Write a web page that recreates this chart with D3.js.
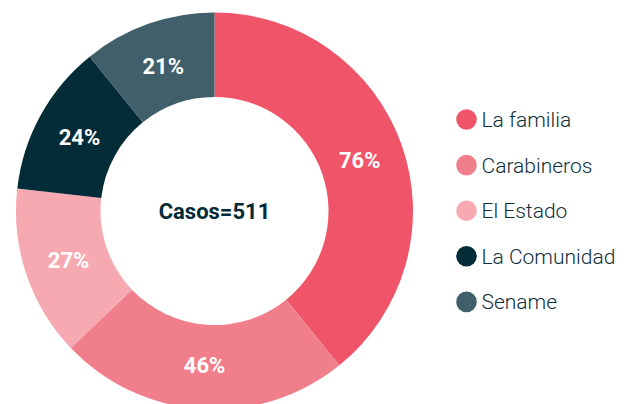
<!DOCTYPE html>
<html>
<head>
<meta charset="utf-8">
<script src="https://cdn.jsdelivr.net/npm/d3@7"></script>
<style>
  body { margin: 0; background: #fff; }
  text { font-family: Roboto, "Noto Sans", sans-serif; }
</style>
</head>
<body>
<div id="chart-area"></div>
<script>
/*
*    donut chart - casos
*/

var categories = ["La familia", "Carabineros", "El Estado", "La Comunidad", "Sename"];
var values = [76, 46, 27, 24, 21];
var colours = ["#F05468", "#F17F8B", "#F6A9B1", "#032B38", "#405F6A"];
var total = 511;

var width = 629, height = 404;
var cx = 214.5, cy = 211,
    outerR = 198.5, innerR = 114;

var svg = d3.select("#chart-area").append("svg")
    .attr("width", width)
    .attr("height", height);

var g = svg.append("g")
    .attr("transform", "translate(" + cx + "," + cy + ")");

var data = categories.map(function(c, i) {
    return { name: c, value: values[i], colour: colours[i] };
});

var pie = d3.pie()
    .sort(null)
    .value(function(d) { return d.value; });

var arc = d3.arc()
    .innerRadius(innerR)
    .outerRadius(outerR);

// labels sit a bit inside the ring's middle
var labelArc = d3.arc()
    .innerRadius(154)
    .outerRadius(154);

var arcs = pie(data);

// Slices
g.selectAll("path.slice")
    .data(arcs)
    .enter().append("path")
    .attr("class", "slice")
    .attr("d", arc)
    .attr("fill", function(d) { return d.data.colour; });

// Percent labels
g.selectAll("text.pct")
    .data(arcs)
    .enter().append("text")
    .attr("class", "pct")
    .attr("transform", function(d) {
        return "translate(" + labelArc.centroid(d) + ")";
    })
    .attr("dy", ".36em")
    .style("text-anchor", "middle")
    .style("font-weight", "bold")
    .style("font-size", "22px")
    .attr("fill", "#fff")
    .text(function(d) { return d.data.value + "%"; });

// Centre label
g.append("text")
    .attr("y", 0)
    .attr("dy", ".36em")
    .style("text-anchor", "middle")
    .style("font-weight", "bold")
    .style("font-size", "22px")
    .attr("fill", "#032B38")
    .text("Casos=" + total);

// Legend
var legend = svg.append("g")
    .attr("transform", "translate(466.5,119.5)");

var items = legend.selectAll("g.item")
    .data(data)
    .enter().append("g")
    .attr("class", "item")
    .attr("transform", function(d, i) { return "translate(0," + (i * 45.6) + ")"; });

items.append("circle")
    .attr("r", 10.3)
    .attr("fill", function(d) { return d.colour; });

items.append("text")
    .attr("x", 15)
    .attr("dy", ".36em")
    .style("font-size", "21px")
    .style("font-weight", "300")
    .attr("fill", "#0f2f3a")
    .text(function(d) { return d.name; });
</script>
</body>
</html>
